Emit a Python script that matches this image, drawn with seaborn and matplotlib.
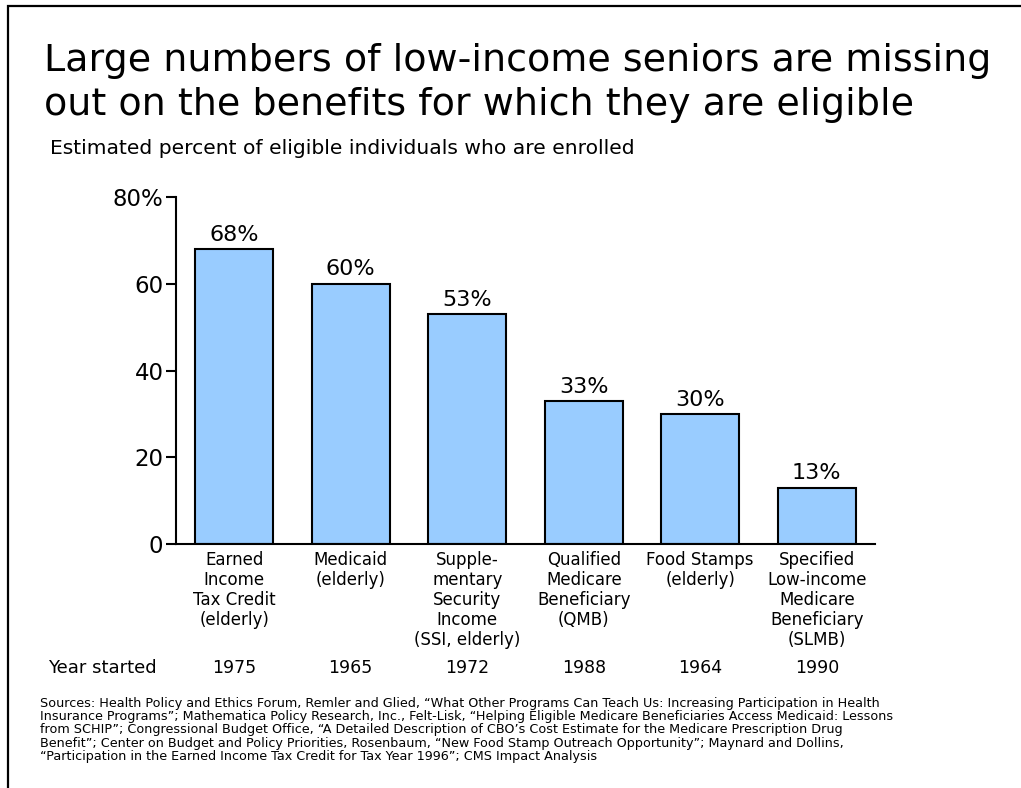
import matplotlib
matplotlib.use("Agg")
import matplotlib.pyplot as plt
import matplotlib.transforms as mtransforms
import seaborn as sns
import pandas as pd

programs = [
    "Earned\nIncome\nTax Credit\n(elderly)",
    "Medicaid\n(elderly)",
    "Supple-\nmentary\nSecurity\nIncome\n(SSI, elderly)",
    "Qualified\nMedicare\nBeneficiary\n(QMB)",
    "Food Stamps\n(elderly)",
    "Specified\nLow-income\nMedicare\nBeneficiary\n(SLMB)",
]
enrolled_pct = [68, 60, 53, 33, 30, 13]
year_started = ["1975", "1965", "1972", "1988", "1964", "1990"]
y_ticks = [0, 20, 40, 60, 80]
y_tick_labels = ["0", "20", "40", "60", "80%"]

title = "Large numbers of low-income seniors are missing\nout on the benefits for which they are eligible"
subtitle = "Estimated percent of eligible individuals who are enrolled"
sources = ("Sources: Health Policy and Ethics Forum, Remler and Glied, \u201cWhat Other Programs Can Teach Us: Increasing Participation in Health\n"
           "Insurance Programs\u201d; Mathematica Policy Research, Inc., Felt-Lisk, \u201cHelping Eligible Medicare Beneficiaries Access Medicaid: Lessons\n"
           "from SCHIP\u201d; Congressional Budget Office, \u201cA Detailed Description of CBO\u2019s Cost Estimate for the Medicare Prescription Drug\n"
           "Benefit\u201d; Center on Budget and Policy Priorities, Rosenbaum, \u201cNew Food Stamp Outreach Opportunity\u201d; Maynard and Dollins,\n"
           "\u201cParticipation in the Earned Income Tax Credit for Tax Year 1996\u201d; CMS Impact Analysis")

sns.set_theme(style="white")
plt.rcParams["font.family"] = ["DejaVu Sans"]
plt.rcParams["text.color"] = "black"
plt.rcParams["axes.labelcolor"] = "black"
plt.rcParams["xtick.color"] = "black"
plt.rcParams["ytick.color"] = "black"

df = pd.DataFrame({"program": programs, "pct": enrolled_pct})

W, H = 1021, 788
fig = plt.figure(figsize=(W / 100, H / 100), dpi=100)
fig.patch.set_facecolor("white")

# slide frame (left and top edges visible)
fig.add_artist(plt.Rectangle((8 / W, -0.1), 1.2, (H - 6.5) / H + 0.1, transform=fig.transFigure,
                             fill=False, edgecolor="black", linewidth=1.6))

ax = fig.add_axes([176 / W, 244 / H, 699 / W, 347 / H])
sns.barplot(data=df, x="program", y="pct", color="#99CCFF", saturation=1,
            edgecolor="black", linewidth=1.5, width=0.67, ax=ax)

ax.set_xlim(-0.5, 5.5)
ax.set_ylim(0, 80)
ax.set_yticks(y_ticks)
ax.set_yticklabels(y_tick_labels, fontsize=16.5, color="black")
ax.set_xlabel("")
ax.set_ylabel("")
ax.tick_params(axis="y", direction="out", length=7, width=1.5, color="black", pad=2, left=True)
ax.tick_params(axis="x", length=0, pad=5)
ax.set_xticks(range(len(programs)))
ax.set_xticklabels(programs, fontsize=12, linespacing=1.15, va="top", color="black")
for s in ["top", "right"]:
    ax.spines[s].set_visible(False)
for s in ["left", "bottom"]:
    ax.spines[s].set_color("black")
    ax.spines[s].set_linewidth(1.5)

for i, v in enumerate(enrolled_pct):
    ax.text(i, v + 1.0, f"{v}%", ha="center", va="bottom", fontsize=16, color="black")

trans = mtransforms.blended_transform_factory(ax.transData, fig.transFigure)
for i, yr in enumerate(year_started):
    ax.text(i, 1 - 668 / H, yr, ha="center", va="center", fontsize=12.5, transform=trans, color="black")
fig.text(48 / W, 1 - 668 / H, "Year started", ha="left", va="center", fontsize=13, color="black")

fig.text(44 / W, 1 - 83 / H, title, ha="left", va="center", fontsize=27.4, linespacing=1.3, color="black")
fig.text(50 / W, 1 - 148 / H, subtitle, ha="left", va="center", fontsize=14.6, color="black")
fig.text(40 / W, 1 - 730 / H, sources, ha="left", va="center", fontsize=9.2, linespacing=1.04, color="black")

fig.savefig("out.png", dpi=100, facecolor="white")
